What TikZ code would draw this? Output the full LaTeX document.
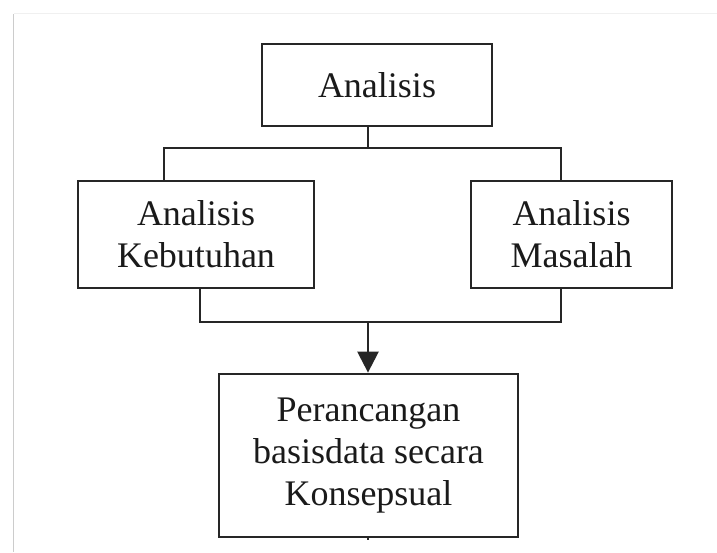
\documentclass[tikz,border=0pt]{standalone}
\usepackage{fontspec}
\setmainfont{Liberation Serif}
\usetikzlibrary{arrows.meta}
\definecolor{ink}{HTML}{1A1A1A}
\definecolor{edge}{HTML}{262626}
\tikzset{
  box/.style={draw=edge, line width=2.8pt, rectangle, align=center, inner sep=0pt,
    font=\fontsize{36}{42}\selectfont, text=ink},
  link/.style={draw=edge, line width=2.5pt},
}
\begin{document}
\begin{tikzpicture}[x=1pt,y=1pt]
\useasboundingbox (0,0) rectangle (717,-552);
\fill[white] (0,0) rectangle (717,-552);
% page frame
\draw[line width=1.6pt, draw=black!20] (13.5,-14) -- (13.5,-552);
\draw[line width=1.2pt, draw=black!6] (13.5,-13.5) -- (717,-13.5);
% nodes
\node[box, minimum width=230, minimum height=82] (top) at (377,-85) {Analisis};
\node[box, minimum width=236, minimum height=107] (lk) at (196,-234.5) {Analisis\\Kebutuhan};
\node[box, minimum width=201, minimum height=107] (rm) at (571.5,-234.5) {Analisis\\Masalah};
\node[box, minimum width=299, minimum height=163] (per) at (368.5,-455.5) {Perancangan\\basisdata secara\\Konsepsual};
% junctions
\coordinate (j1) at (368,-148);
\coordinate (h1) at (164,-148);
\coordinate (h2) at (561,-148);
\coordinate (b1) at (200,-322);
\coordinate (b2) at (561,-322);
\coordinate (j2) at (368,-322);
\coordinate (t1) at (368,-540);
% connectors
\draw[link] (top.south -| j1) -- (j1);
\draw[link] (lk.north -| h1) -- (h1) -- (h2) -- (rm.north -| h2);
\draw[link] (lk.south -| b1) -- (b1) -- (b2) -- (rm.south -| b2);
\draw[link, -{Triangle[length=21pt,width=21pt]}] (j2) -- (per.north -| j2);
\draw[link] (per.south -| t1) -- (t1);
\end{tikzpicture}
\end{document}
